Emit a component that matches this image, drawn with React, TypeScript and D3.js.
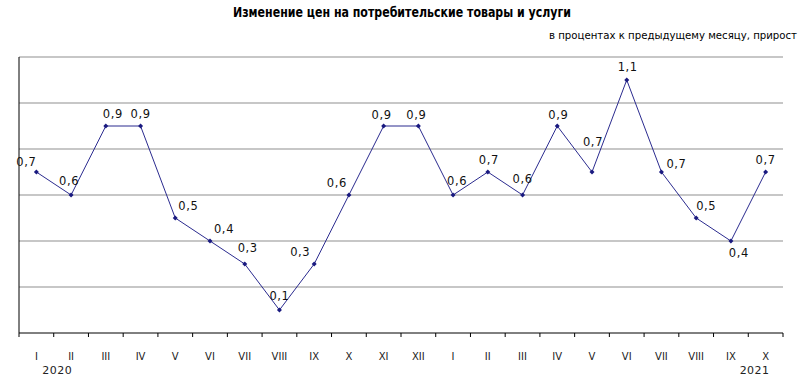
import React from "react";
import * as d3 from "d3";

const months = ["I","II","III","IV","V","VI","VII","VIII","IX","X","XI","XII","I","II","III","IV","V","VI","VII","VIII","IX","X"];
const values = [0.7,0.6,0.9,0.9,0.5,0.4,0.3,0.1,0.3,0.6,0.9,0.9,0.6,0.7,0.6,0.9,0.7,1.1,0.7,0.5,0.4,0.7];
const years = [{ label: "2020", index: 0 }, { label: "2021", index: 21 }];
const yTicks = [0, 0.2, 0.4, 0.6, 0.8, 1.0, 1.2];
const title = "Изменение цен на потребительские товары и услуги";
const subtitle = "в процентах к предыдущему месяцу, прирост";

// label offsets relative to point (layout only)
const labelOffsets: [number, number][] = [
  [-10, -6], [-2, -10], [7, -8], [0, -8], [13, -8], [14, -8], [3, -12], [0, -10],
  [-14, -8], [-12, -8], [-2, -7], [-2, -7], [4, -10], [1, -8], [0, -12], [1, -7],
  [1, -26], [1, -9], [15, -4], [10, -8], [8, 16], [0, -8],
];

export default function App() {
  const W = 805, H = 380;
  const left = 19, right = 783, top = 57, bottom = 333;
  const x = d3.scaleLinear().domain([0, months.length]).range([left, right]);
  const y = d3.scaleLinear().domain([0, 1.2]).range([bottom, top]);
  const line = d3.line<number>().x((_, i) => x(i + 0.5)).y((d) => y(d));
  const fmt = (v: number) => v.toFixed(1).replace(".", ",");
  const lineColor = "#2b2b8f";
  return (
    <svg width={W} height={H} style={{ position: "absolute", left: 0, top: 0, background: "#fff" }}>
      <text x={402} y={17} textAnchor="middle" fontFamily="'Liberation Sans Narrow', 'DejaVu Sans Condensed', 'Open Sans', sans-serif" fontWeight="bold" fontSize={14} textLength={338} lengthAdjust="spacingAndGlyphs">{title}</text>
      <text x={797} y={39} textAnchor="end" fontFamily="'Liberation Sans Narrow', 'DejaVu Sans Condensed', 'Open Sans', sans-serif" fontSize={11} textLength={248} lengthAdjust="spacingAndGlyphs">{subtitle}</text>
      {yTicks.slice(1).map((t) => (
        <line key={t} x1={left} x2={right} y1={y(t)} y2={y(t)} stroke="#b4b4b4" strokeWidth={1.3} />
      ))}
      <line x1={left} x2={left} y1={top} y2={bottom} stroke="#000" strokeWidth={1} />
      <line x1={left} x2={right} y1={bottom} y2={bottom} stroke="#000" strokeWidth={1} />
      {d3.range(months.length + 1).map((i) => (
        <line key={i} x1={x(i)} x2={x(i)} y1={bottom} y2={bottom + 4} stroke="#000" strokeWidth={1} />
      ))}
      {months.map((m, i) => (
        <text key={i} x={x(i + 0.5)} y={360} textAnchor="middle" fontFamily="'DejaVu Sans', Verdana, sans-serif" fontSize={10} fill="#222">{m}</text>
      ))}
      {years.map((yr) => (
        <text key={yr.label} x={x(yr.index + 0.5) + (yr.index === 0 ? 21 : -11)} y={374} textAnchor="middle" fontFamily="'DejaVu Sans', Verdana, sans-serif" fontSize={11} letterSpacing={0.5} fill="#222">{yr.label}</text>
      ))}
      <path d={line(values) || ""} fill="none" stroke={lineColor} strokeWidth={1} />
      {values.map((v, i) => {
        const cx = x(i + 0.5), cy = y(v);
        return <path key={i} d={`M${cx},${cy - 2.5}L${cx + 2.5},${cy}L${cx},${cy + 2.5}L${cx - 2.5},${cy}Z`} fill="#1a1a80" />;
      })}
      {values.map((v, i) => (
        <text key={i} x={x(i + 0.5) + labelOffsets[i][0]} y={y(v) + labelOffsets[i][1]} textAnchor="middle" fontFamily="'DejaVu Sans', Verdana, sans-serif" fontSize={11.5} letterSpacing={0.6} fill="#111">{fmt(v)}</text>
      ))}
    </svg>
  );
}
